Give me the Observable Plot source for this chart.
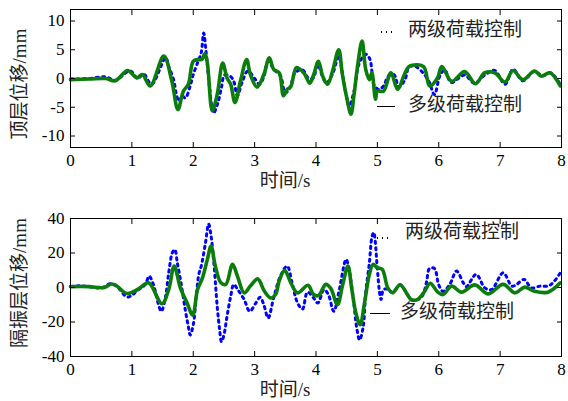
<!DOCTYPE html>
<html><head><meta charset="utf-8">
<script src="https://cdn.jsdelivr.net/npm/d3@7"></script>
<script src="https://cdn.jsdelivr.net/npm/@observablehq/plot@0.6"></script>
<style>
body{margin:0;background:#fff;}
#chart{position:relative;width:568px;height:401px;font-family:"Liberation Serif","Noto Sans CJK SC",serif;}
.panel{position:absolute;left:0;}
.leg{position:absolute;font-size:19px;color:#222;white-space:nowrap;line-height:1;font-family:"Liberation Serif","Noto Sans CJK SC",serif;}
.ylab{position:absolute;font-size:19px;color:#222;white-space:nowrap;line-height:1;transform:translate(-50%,-50%) rotate(-90deg);font-family:"Liberation Serif","Noto Sans CJK SC",serif;}
.dots{position:absolute;height:2px;background-image:radial-gradient(circle,#000 0.9px,transparent 1.1px);background-size:5px 2px;background-repeat:repeat-x;}
.solid{position:absolute;height:0;border-top:1px solid #000;}
</style>
</head><body>
<div id="chart"></div>
<script>
// ---- data ----
const seriesNames = ["两级荷载控制", "多级荷载控制"];
const xLabel = "时间/s";
const yLabels = ["顶层位移/mm", "隔振层位移/mm"];
const xTicks = [0, 1, 2, 3, 4, 5, 6, 7, 8];
const topYTicks = [-10, -5, 0, 5, 10];
const botYTicks = [-40, -20, 0, 20, 40];

// top panel, 多级荷载控制 (green)
const topMultiT = [0,0.3,0.57,0.73,0.93,1.08,1.17,1.30,1.52,1.65,1.75,1.84,1.92,2.00,2.08,2.14,2.19,2.23,2.31,2.39,2.48,2.55,2.61,2.68,2.77,2.87,2.93,3.04,3.15,3.24,3.31,3.40,3.47,3.53,3.59,3.68,3.80,3.90,3.96,4.04,4.11,4.19,4.27,4.37,4.43,4.50,4.57,4.62,4.68,4.75,4.81,4.87,4.91,4.97,5.00,5.10,5.22,5.33,5.44,5.52,5.75,5.85,5.98,6.05,6.21,6.42,6.60,6.75,6.91,7.08,7.21,7.37,7.56,7.67,7.81,7.98];
const topMultiV = [-0.2,-0.1,0.0,-0.4,1.4,0.1,0.7,-1.3,3.9,-0.4,-5.4,-2.2,-1.0,3.0,3.3,3.3,4.3,2.7,-5.6,-2.8,2.7,0.1,-1.0,-4.2,-0.4,3.3,0.7,-1.5,0.7,3.6,1.6,1.0,-3.0,-1.9,-1.4,1.9,1.0,-0.8,0.6,3.0,0.4,-1.0,1.3,5.0,0.7,-3.3,-6.2,-2.8,2.4,6.5,1.6,-0.2,1.0,-3.6,-2.2,-2.2,1.0,-1.9,0.7,2.1,2.1,-1.3,0.1,2.1,-0.5,1.2,-0.9,1.0,1.0,-0.6,1.4,-0.2,1.3,0.4,1.0,-1.3];
// top panel, 两级荷载控制 (blue dotted)
const topTwoT = [0,0.3,0.57,0.73,0.97,1.10,1.19,1.32,1.55,1.60,1.68,1.73,1.77,1.82,1.87,1.95,2.00,2.08,2.13,2.17,2.21,2.27,2.33,2.40,2.46,2.51,2.60,2.66,2.72,2.80,2.89,3.00,3.08,3.15,3.22,3.32,3.42,3.50,3.58,3.66,3.78,3.88,3.95,4.03,4.10,4.17,4.27,4.37,4.42,4.49,4.54,4.62,4.70,4.78,4.82,4.88,4.91,4.94,4.97,5.03,5.10,5.18,5.27,5.35,5.45,5.52,5.62,5.75,5.84,5.93,6.02,6.10,6.20,6.42,6.58,6.75,6.91,7.08,7.21,7.37,7.55,7.70,7.82,7.98];
const topTwoV = [-0.1,0.0,0.3,-0.3,1.3,0.0,0.8,-1.0,3.6,2.1,-0.2,-3.0,-4.0,-3.0,-3.4,-1.3,0.7,3.0,4.5,7.9,4.5,-2.0,-6.0,-4.3,-1.5,0.6,0.4,-0.5,-3.0,-0.5,1.3,0.0,-1.0,0.3,3.0,1.5,0.5,-2.5,-1.5,1.0,1.5,0.0,0.0,2.4,0.5,-0.8,0.8,3.9,1.6,-2.8,-4.8,-2.2,2.5,4.0,4.2,3.3,1.3,-1.0,-1.5,-1.9,-1.3,0.4,0.7,-1.5,-0.2,2.1,2.1,0.9,-0.5,-2.8,0.5,1.5,-0.7,0.6,-0.8,0.6,1.4,-1.0,1.6,-0.4,1.2,0.5,1.0,-1.0];

// bottom panel, 多级荷载控制 (green)
const botMultiT = [0,0.3,0.55,0.67,0.75,0.92,1.11,1.27,1.49,1.60,1.69,1.79,1.90,1.99,2.07,2.15,2.23,2.29,2.36,2.45,2.53,2.64,2.72,2.83,2.93,3.05,3.16,3.26,3.34,3.40,3.49,3.59,3.70,3.87,3.96,4.04,4.16,4.24,4.35,4.43,4.52,4.58,4.65,4.72,4.79,4.87,4.93,5.00,5.08,5.17,5.25,5.37,5.49,5.55,5.65,5.77,5.86,5.98,6.07,6.21,6.37,6.59,6.80,7.05,7.24,7.40,7.56,7.78,7.98];
const botMultiV = [0.5,0.5,0.0,2.0,1.0,-3.5,-0.8,2.7,-9.4,-1.2,12.4,-0.2,-9.0,-16.0,-1.2,5.6,16.3,24.0,12.4,2.7,1.8,13.4,6.6,-3.1,0.8,5.0,-2.2,-6.1,-4.1,3.7,9.9,2.7,-3.1,1.3,-4.1,-4.7,1.8,-0.5,-10.0,0.8,12.4,-0.2,-14.8,-21.6,-9.0,7.6,13.4,11.4,10.5,-0.2,-3.0,1.6,-4.1,-7.0,-7.0,-2.2,2.5,-2.5,-4.1,0.8,-2.7,1.5,-3.7,1.8,-3.1,0.2,-2.2,-2.7,2.7];
// bottom panel, 两级荷载控制 (blue dotted)
const botTwoT = [0,0.15,0.3,0.5,0.65,0.75,0.92,1.00,1.08,1.22,1.28,1.35,1.43,1.48,1.55,1.60,1.66,1.70,1.74,1.80,1.87,1.92,1.95,2.00,2.05,2.09,2.13,2.20,2.25,2.29,2.34,2.39,2.43,2.46,2.50,2.55,2.61,2.66,2.72,2.83,2.92,3.02,3.09,3.15,3.22,3.31,3.42,3.53,3.61,3.70,3.78,3.86,3.96,4.03,4.13,4.20,4.29,4.37,4.49,4.53,4.61,4.66,4.71,4.77,4.81,4.87,4.91,4.94,5.00,5.03,5.06,5.10,5.17,5.25,5.37,5.49,5.55,5.65,5.73,5.80,5.85,5.93,6.00,6.07,6.18,6.29,6.40,6.45,6.61,6.75,6.86,7.05,7.19,7.27,7.39,7.51,7.65,7.78,7.86,8.00];
const botTwoV = [0.5,1.0,0.5,-0.3,2.2,0.8,-5.5,-4.5,-2.0,1.8,6.6,1.8,-9.4,-13.8,-5.0,8.5,20.2,22.0,14.4,2.7,-12.9,-22.6,-27.5,-21.6,-5.0,7.5,12.4,26.0,36.8,30.0,12.4,-10.9,-24.5,-31.4,-27.5,-16.8,-5.1,1.8,-1.0,-7.0,-13.8,-9.0,-5.7,-10.0,-17.7,-6.0,6.6,12.4,2.7,-9.0,-12.5,-2.7,-6.0,-9.0,-1.2,-4.0,-13.8,-3.0,16.3,12.0,-7.0,-22.6,-30.4,-22.6,-3.1,14.4,29.0,31.9,10.5,-1.2,-7.0,-1.2,-1.0,-3.0,1.6,-4.1,-7.0,-7.0,-5.0,3.0,11.0,11.0,1.5,-2.2,1.8,9.5,2.7,0.5,7.6,-0.2,-1.2,8.5,0.8,1.8,4.7,-0.2,0.8,0.8,2.7,9.5];

// ---- build ----
const zip = (T, V) => T.map((t, i) => ({t, v: V[i]}));
const FONT = '"Liberation Serif","Noto Sans CJK SC",serif';
const fmt = d => String(d);

function panel({two, multi, yDomain, yTicks, height, mt, mb}) {
  return Plot.plot({
    width: 568, height, marginLeft: 70, marginRight: 7, marginTop: mt, marginBottom: mb,
    x: {domain: [0, 8]},
    y: {domain: yDomain},
    style: {fontFamily: FONT, fontSize: "17px", color: "#000", background: "transparent", overflow: "visible"},
    marks: [
      Plot.line(two, {x: "t", y: "v", stroke: "#0000ff", strokeWidth: 3, strokeDasharray: "2.2 4.2", curve: "catmull-rom"}),
      Plot.line(multi, {x: "t", y: "v", stroke: "#0a7d0a", strokeWidth: 3.6, curve: "catmull-rom"}),
      Plot.frame({stroke: "#000", strokeWidth: 1}),
      Plot.axisX(xTicks, {anchor: "bottom", tickSize: -5, tickPadding: 11, label: null, tickFormat: fmt, fontSize: 17}),
      Plot.axisX(xTicks, {anchor: "top", tickSize: -5, label: null, tickFormat: () => ""}),
      Plot.axisY(yTicks, {anchor: "left", tickSize: -5, tickPadding: 11, label: null, tickFormat: fmt, fontSize: 17}),
      Plot.axisY(yTicks, {anchor: "right", tickSize: -5, label: null, tickFormat: () => ""}),
      Plot.text([xLabel], {text: d => d, frameAnchor: "bottom", dy: 39, dx: -31, fontSize: 19, fill: "#222"})
    ]
  });
}

const chart = document.getElementById("chart");
const p1 = panel({two: zip(topTwoT, topTwoV), multi: zip(topMultiT, topMultiV), yDomain: [-12, 12], yTicks: topYTicks, height: 200, mt: 9, mb: 53});
p1.classList.add("panel"); p1.style.top = "0px";
const p2 = panel({two: zip(botTwoT, botTwoV), multi: zip(botMultiT, botMultiV), yDomain: [-40, 40], yTicks: botYTicks, height: 201, mt: 18, mb: 45});
p2.classList.add("panel"); p2.style.top = "200px";
chart.appendChild(p1); chart.appendChild(p2);

function ylab(cx, cy, label) {
  const d = document.createElement("div"); d.className = "ylab";
  d.style.left = cx + "px"; d.style.top = cy + "px"; d.textContent = label;
  chart.appendChild(d);
}
ylab(19, 84, yLabels[0]);
ylab(19, 283, yLabels[1]);

function legend(x, y, cls, w, tx, ty, label) {
  const s = document.createElement("div"); s.className = cls;
  s.style.left = x + "px"; s.style.top = y + "px"; s.style.width = w + "px";
  chart.appendChild(s);
  const t = document.createElement("div"); t.className = "leg";
  t.style.left = tx + "px"; t.style.top = ty + "px"; t.textContent = label;
  chart.appendChild(t);
}
legend(379, 31, "dots", 15, 408, 20, seriesNames[0]);
legend(377, 106, "solid", 18, 408, 95, seriesNames[1]);
legend(375, 237, "dots", 15, 405, 222, seriesNames[0]);
legend(370, 313, "solid", 20, 400, 302, seriesNames[1]);
</script>
</body></html>
